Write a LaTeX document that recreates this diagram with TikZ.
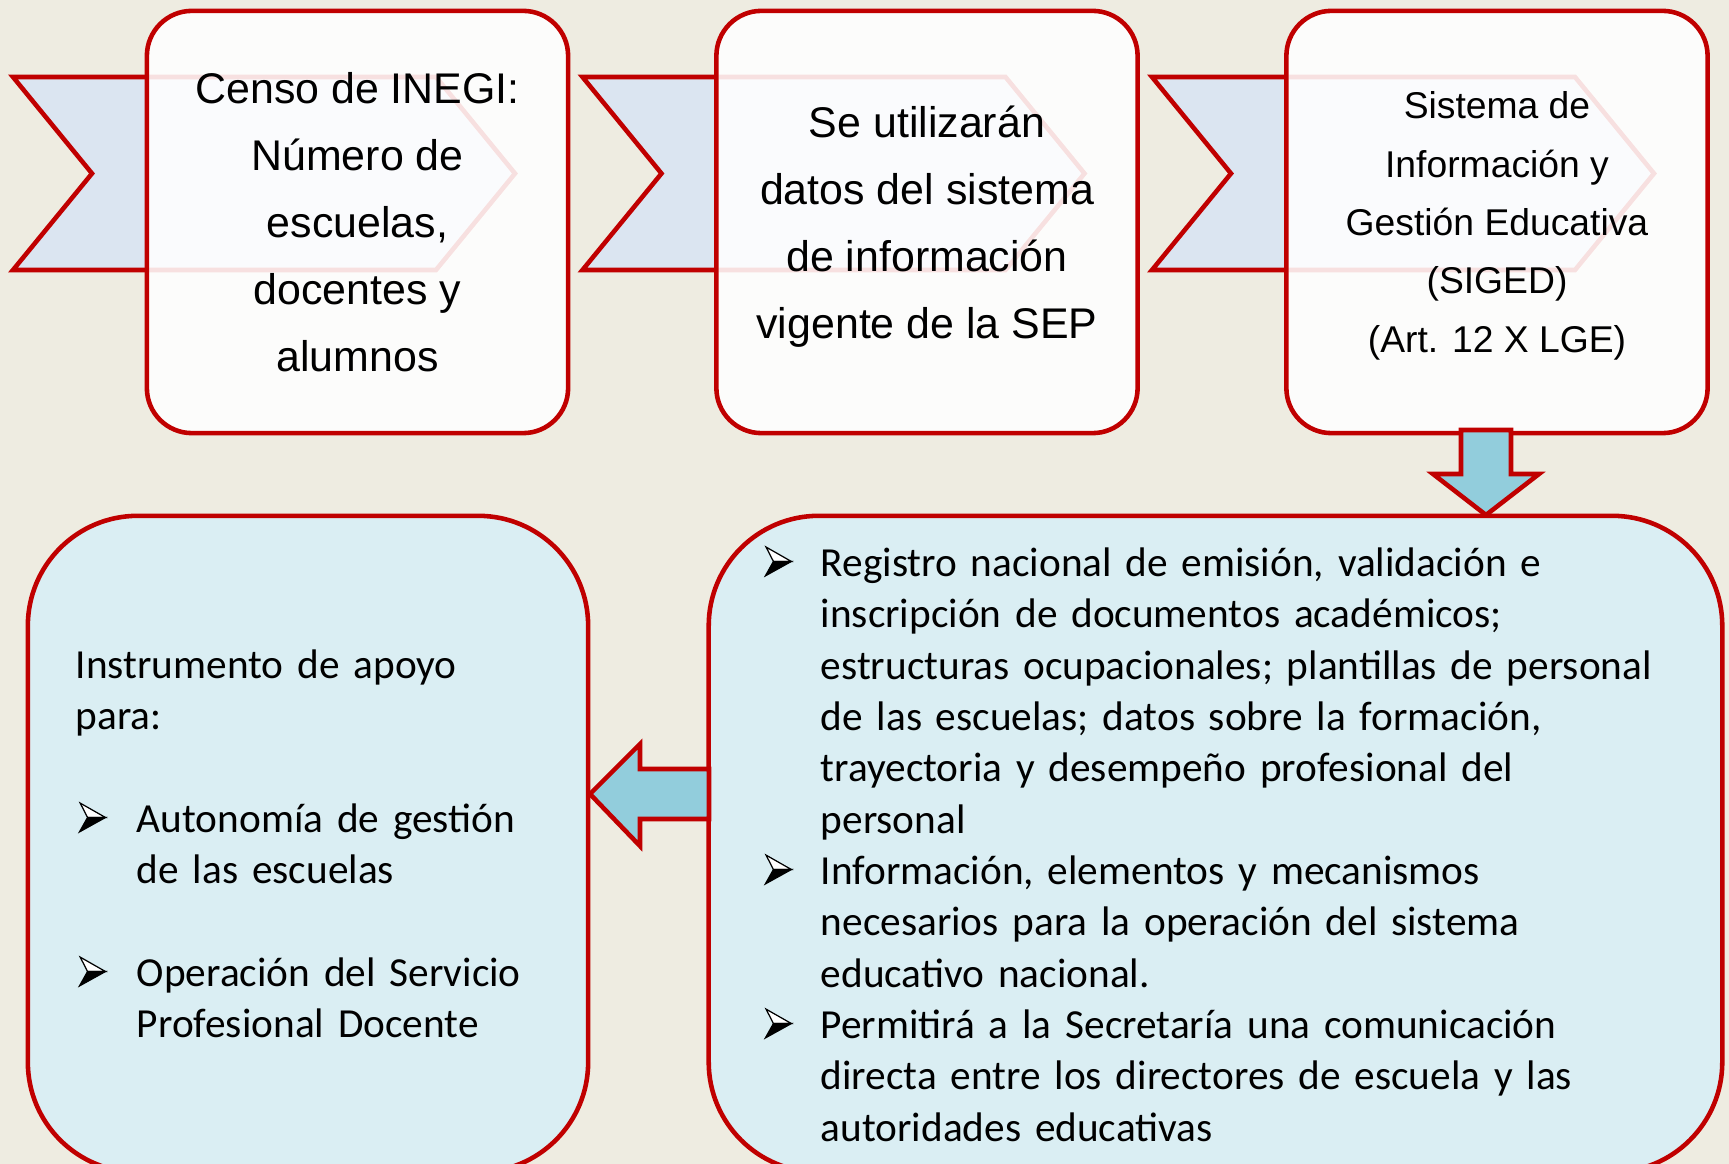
\documentclass[tikz,border=0pt]{standalone}
\usepackage{fontspec}
\setmainfont{Liberation Sans}
\newfontfamily\calibri{Carlito}
\usetikzlibrary{positioning}
\definecolor{bgtan}{HTML}{EEECE1}
\definecolor{darkred}{HTML}{C00000}
\definecolor{chevblue}{HTML}{DBE5F1}
\definecolor{paleaqua}{HTML}{DAEEF3}
\definecolor{aqua}{HTML}{92CDDC}
\newcommand{\arrowbul}{\tikz[x=1pt,y=1pt,baseline={(0,0.6)},sharp corners,line width=0.35pt,line join=miter]{
  \filldraw[fill=white,draw=black] (0.2,8.2) -- (7.4,4.1) -- (2.3,4.1) -- cycle;
  \filldraw[black] (2.3,4.1) -- (7.4,4.1) -- (0,0) -- cycle;}}
\newcommand{\bitem}[2][0.56cm]{\mbox{\makebox[#1][l]{\arrowbul}#2}}
\newcommand{\iitem}[2][0.56cm]{\mbox{\hspace*{#1}#2}}

\begin{document}
\begin{tikzpicture}[x=0.01cm,y=-0.01cm,
  chev/.style={draw=darkred,fill=chevblue,line width=1.3pt},
  topbox/.style={draw=darkred,fill=white,fill opacity=0.88,text opacity=1,line width=1.3pt,rounded corners=0.45cm,
    minimum width=4.21cm,minimum height=4.22cm,align=center,text depth=0pt,font=\fontsize{12.2}{19.1}\selectfont},
  lowbox/.style={draw=darkred,fill=paleaqua,line width=1.3pt,rounded corners=1.1cm,minimum height=6.56cm,
    align=left,font=\calibri\fontsize{11.75}{14.6}\selectfont},
  blockarrow/.style={draw=darkred,fill=aqua,line width=1.3pt}]
  \fill[bgtan] (0,0) rectangle (1729,1164);
  \useasboundingbox (0,0) rectangle (1729,1164);

  \foreach \x in {13,582.5,1152}
    \draw[chev] (\x,77) -- ({\x+423},77) -- ({\x+502},173.5) -- ({\x+423},270) -- (\x,270) -- ({\x+79},173.5) -- cycle;

  \node[topbox] (censo) at (357.5,222) {Censo de INEGI:\\Número de\\escuelas,\\docentes y\\alumnos};
  \node[topbox] (sep) at (927,222) {Se utilizarán\\datos del sistema\\de información\\vigente de la SEP};
  \node[topbox,font=\fontsize{10.6}{16.6}\selectfont] (siged) at (1497,222)
    {Sistema de\\Información y\\Gestión Educativa\\(SIGED)\\(Art. 12 X LGE)};

  \node[lowbox,minimum width=10.13cm,text width=9.01cm] (registro) at (1215.5,844)
    {\bitem{Registro nacional de emisión, validación e}\\
     \iitem{inscripción de documentos académicos;}\\
     \iitem{estructuras ocupacionales; plantillas de personal}\\
     \iitem{de las escuelas; datos sobre la formación,}\\
     \iitem{trayectoria y desempeño profesional del}\\
     \iitem{personal}\\
     \bitem{Información, elementos y mecanismos}\\
     \iitem{necesarios para la operación del sistema}\\
     \iitem{educativo nacional.}\\
     \bitem{Permitirá a la Secretaría una comunicación}\\
     \iitem{directa entre los directores de escuela y las}\\
     \iitem{autoridades educativas}};
  \node[lowbox,minimum width=5.6cm,text width=4.64cm] (apoyo) at (308,844)
    {\mbox{Instrumento de apoyo}\\
     para:\\[14.6pt]
     \hspace*{0.03cm}\bitem[0.58cm]{Autonomía de gestión}\\
     \iitem[0.61cm]{de las escuelas}\\[14.6pt]
     \hspace*{0.03cm}\bitem[0.58cm]{Operación del Servicio}\\
     \iitem[0.61cm]{Profesional Docente}};

  \draw[blockarrow] (1461,430) -- (1461,474) -- (1433,474) -- (1486,515) -- (1539,474) -- (1511,474) -- (1511,430) -- cycle;
  \draw[blockarrow] (709,769) -- (640,769) -- (640,744) -- (590,794) -- (640,846) -- (640,819) -- (709,819) -- cycle;
\end{tikzpicture}
\end{document}
